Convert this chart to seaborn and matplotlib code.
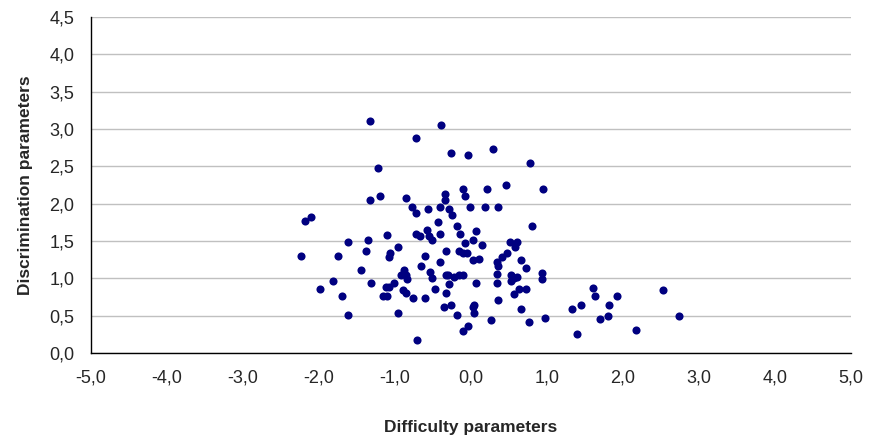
import matplotlib
matplotlib.use("Agg")
import matplotlib.pyplot as plt
import matplotlib.ticker as mticker
import seaborn as sns
import numpy as np
import pandas as pd

difficulty = [
    -1.33, -0.73, -1.23, -1.33, -1.20, -0.85, -0.78, -0.73, -0.57, -2.19,
    -2.10, -1.11, -0.73, -0.58, -0.39, -0.26, -0.04, 0.29, 0.78, -0.11,
    0.21, 0.46, 0.95, -0.34, -0.08, -0.34, -0.41, -0.29, -0.25, -0.01,
    0.19, 0.36, -0.43, -0.18, 0.80, 0.06, -0.41, -0.15, -2.24, -1.62,
    -1.75, -1.35, -1.38, -0.67, -0.96, -1.06, -1.08, -0.61, -0.66, -1.45,
    -1.82, -1.99, -1.70, -1.31, -1.62, -1.12, -1.08, -1.01, -1.16, -1.11,
    -0.88, -0.92, -0.86, -0.84, -0.90, -0.85, -0.76, -0.61, -0.96, -0.71,
    -0.54, -0.55, -0.51, -0.08, 0.02, 0.14, -0.33, -0.16, -0.11, -0.05,
    -0.41, 0.02, 0.11, 0.51, 0.61, 0.58, 0.48, 0.41, 0.34, 0.36,
    0.34, 0.66, 0.73, -0.51, -0.33, -0.30, -0.23, -0.16, -0.11, -0.29,
    0.06, -0.48, -0.33, 0.34, 0.53, 0.61, 0.53, 0.57, 0.63, 0.73,
    0.56, 0.93, 0.93, 0.36, -0.36, -0.26, 0.04, 0.02, 0.04, -0.18,
    0.66, 0.26, 0.76, 0.98, -0.04, -0.11, 1.60, 1.63, 1.92, 1.33,
    1.45, 1.82, 1.70, 1.80, 1.40, 2.17, 2.52, 2.74,
]
discrimination = [
    3.11, 2.88, 2.48, 2.05, 2.10, 2.07, 1.95, 1.87, 1.93, 1.77,
    1.82, 1.58, 1.60, 1.65, 3.06, 2.68, 2.65, 2.73, 2.55, 2.20,
    2.20, 2.25, 2.20, 2.13, 2.10, 2.05, 1.95, 1.93, 1.85, 1.95,
    1.95, 1.95, 1.75, 1.70, 1.70, 1.63, 1.59, 1.60, 1.30, 1.49,
    1.30, 1.52, 1.37, 1.57, 1.42, 1.34, 1.29, 1.30, 1.17, 1.11,
    0.97, 0.86, 0.76, 0.94, 0.51, 0.89, 0.89, 0.94, 0.76, 0.76,
    1.11, 1.04, 1.05, 0.99, 0.84, 0.81, 0.74, 0.74, 0.54, 0.18,
    1.09, 1.57, 1.52, 1.47, 1.52, 1.44, 1.37, 1.37, 1.34, 1.34,
    1.22, 1.24, 1.26, 1.49, 1.49, 1.42, 1.34, 1.29, 1.22, 1.17,
    1.06, 1.24, 1.14, 1.01, 1.04, 1.04, 1.02, 1.04, 1.04, 0.92,
    0.94, 0.86, 0.81, 0.94, 1.04, 1.02, 0.97, 1.00, 0.86, 0.86,
    0.79, 1.07, 0.99, 0.71, 0.61, 0.64, 0.64, 0.61, 0.54, 0.51,
    0.59, 0.44, 0.41, 0.47, 0.36, 0.29, 0.87, 0.76, 0.76, 0.59,
    0.64, 0.64, 0.46, 0.49, 0.26, 0.31, 0.84, 0.49,
]

x_ticks = [-5, -4, -3, -2, -1, 0, 1, 2, 3, 4, 5]
y_ticks = [0.0, 0.5, 1.0, 1.5, 2.0, 2.5, 3.0, 3.5, 4.0, 4.5]
x_label = "Difficulty parameters"
y_label = "Discrimination parameters"

df = pd.DataFrame({"Difficulty": difficulty, "Discrimination": discrimination})

sns.set_style("white")
plt.rcParams["font.family"] = ["Liberation Sans", "DejaVu Sans"]

fig = plt.figure(figsize=(8.71, 4.40), dpi=100)
ax = fig.add_axes([91 / 871, 1 - 353 / 440, (851 - 91) / 871, (353 - 17) / 440])

sns.scatterplot(data=df, x="Difficulty", y="Discrimination", ax=ax,
                color="#000080", s=34, edgecolor="#000080", linewidth=0,
                zorder=3)

ax.set_xlim(-5, 5)
ax.set_ylim(0, 4.5)
ax.set_xticks(x_ticks)
ax.set_yticks(y_ticks)
fmt = mticker.FuncFormatter(lambda v, p: f"{v:.1f}".replace(".", ","))
ax.xaxis.set_major_formatter(fmt)
ax.yaxis.set_major_formatter(fmt)

ax.grid(axis="y", color="#c0c0c0", linewidth=1.0, zorder=0)
ax.grid(axis="x", visible=False)
for s in ["top", "right"]:
    ax.spines[s].set_visible(False)
for s in ["left", "bottom"]:
    ax.spines[s].set_color("black")
    ax.spines[s].set_linewidth(1.0)

ax.tick_params(axis="both", which="major", direction="out", length=5,
               width=1, color="black", labelsize=13, pad=7)

ax.set_xlabel(x_label, fontsize=12.5, fontweight="bold", labelpad=24)
ax.set_ylabel(y_label, fontsize=12.5, fontweight="bold", labelpad=12)

fig.savefig("out.png", dpi=100)
